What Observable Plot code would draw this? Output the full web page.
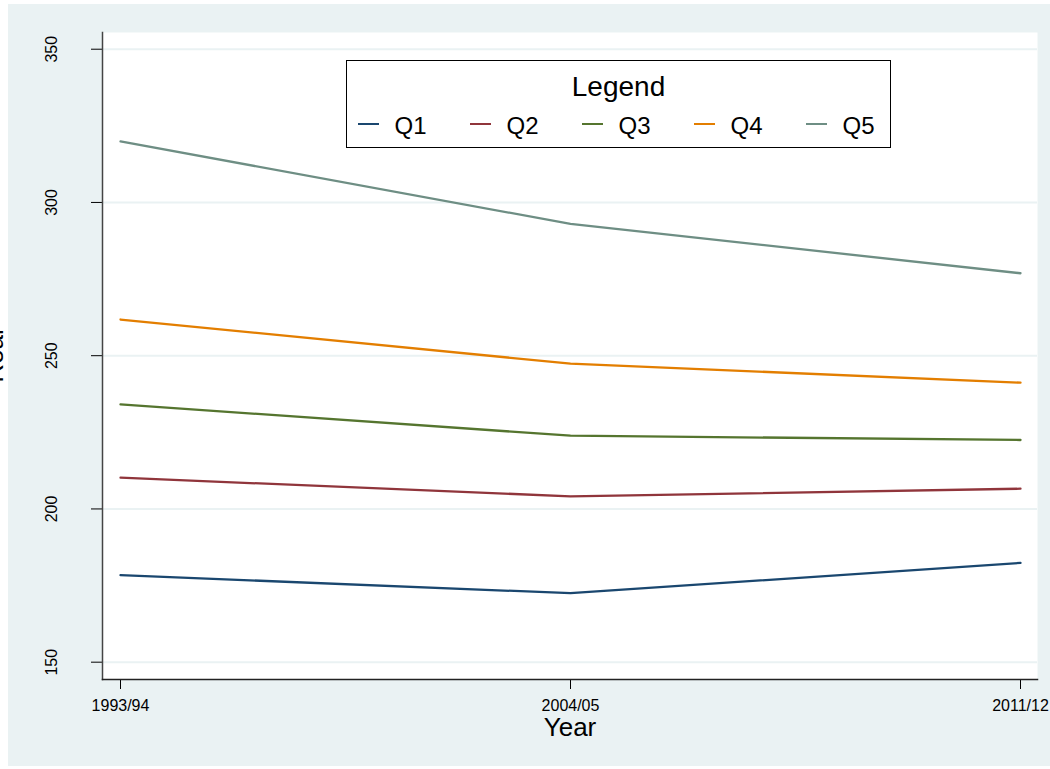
<!DOCTYPE html>
<html>
<head>
<meta charset="utf-8">
<script src="https://cdn.jsdelivr.net/npm/d3@7"></script>
<script src="https://cdn.jsdelivr.net/npm/@observablehq/plot@0.6"></script>
<style>
  html, body { margin: 0; padding: 0; background: white; }
  #wrap { position: relative; width: 1050px; height: 769px; overflow: hidden; font-family: "Liberation Sans", Arial, sans-serif; }
  #bg { position: absolute; left: 8px; top: 4px; width: 1042px; height: 762px; background: #eaf2f3; }
  #chart { position: absolute; left: 0; top: 0; }
  #legend { position: absolute; left: 346px; top: 60px; width: 543px; height: 86px; background: white; border: 1px solid black; }
  .lg-title { position: absolute; left: 0; width: 100%; text-align: center; font-size: 28px; line-height: 28px; top: 12px; color: black; }
  .lg-key { position: absolute; height: 2.4px; width: 21px; top: 61.5px; }
  .lg-lab { position: absolute; font-size: 24px; line-height: 24px; top: 52.5px; color: black; white-space: nowrap; }
</style>
</head>
<body>
<div id="wrap">
  <div id="bg"></div>
  <div id="chart"></div>
  <div id="legend"></div>
</div>
<script>
const years = ["1993/94", "2004/05", "2011/12"];
const seriesNames = ["Q1", "Q2", "Q3", "Q4", "Q5"];
const q1 = [178.4, 172.5, 182.4];
const q2 = [210.2, 204.1, 206.6];
const q3 = [234.1, 223.9, 222.5];
const q4 = [261.8, 247.4, 241.2];
const q5 = [319.9, 293.0, 276.9];
const colors = ["#1a476f", "#90353b", "#55752f", "#e37e00", "#6e8e84"];
const yTicks = [150, 200, 250, 300, 350];
const xTitle = "Year";
const yTitle = "Real";
const legendTitle = "Legend";

const rows = [];
[q1, q2, q3, q4, q5].forEach((vals, i) =>
  vals.forEach((v, j) => rows.push({series: seriesNames[i], year: years[j], value: v}))
);

const chart = Plot.plot({
  width: 1050,
  height: 769,
  marginLeft: 102,
  marginRight: 13,
  marginTop: 32,
  marginBottom: 90,
  style: {background: "transparent", fontFamily: "'Liberation Sans', Arial, sans-serif", color: "black"},
  x: {type: "point", domain: years, padding: 0.038},
  y: {domain: [144.35, 355.45]},
  color: {domain: seriesNames, range: colors},
  marks: [
    Plot.frame({fill: "white", stroke: null}),
    Plot.ruleY(yTicks, {stroke: "#eaf2f3", strokeWidth: 2}),
    Plot.axisY({ticks: yTicks, tickSize: 11, tickFormat: () => "", label: null, stroke: "black"}),
    Plot.text(yTicks, {y: d => d, frameAnchor: "left", dx: -51, rotate: -90, textAnchor: "middle", lineAnchor: "middle", fontSize: 16, text: d => String(d), fill: "black"}),
    Plot.axisX({tickSize: 10, tickPadding: 10, fontSize: 16, label: null, stroke: "black", fill: "black"}),
    Plot.frame({anchor: "left", stroke: "#444", strokeWidth: 1.5}),
    Plot.frame({anchor: "bottom", stroke: "#222", strokeWidth: 1.5}),
    Plot.line(rows, {x: "year", y: "value", z: "series", stroke: "series", strokeWidth: 2.3}),
    Plot.text([xTitle], {frameAnchor: "bottom", dy: 48.5, textAnchor: "middle", lineAnchor: "middle", fontSize: 26, text: d => d, fill: "black"}),
    Plot.text([yTitle], {frameAnchor: "left", dx: -107.5, rotate: -90, textAnchor: "middle", lineAnchor: "middle", fontSize: 26, text: d => d, fill: "black"})
  ]
});
document.getElementById("chart").appendChild(chart);

const lg = document.getElementById("legend");
const t = document.createElement("div");
t.className = "lg-title";
t.textContent = legendTitle;
lg.appendChild(t);
seriesNames.forEach((name, i) => {
  const k = document.createElement("div");
  k.className = "lg-key";
  k.style.left = (10.5 + i * 112) + "px";
  k.style.background = colors[i];
  lg.appendChild(k);
  const l = document.createElement("div");
  l.className = "lg-lab";
  l.style.left = (47.5 + i * 112) + "px";
  l.textContent = name;
  lg.appendChild(l);
});
</script>
</body>
</html>
